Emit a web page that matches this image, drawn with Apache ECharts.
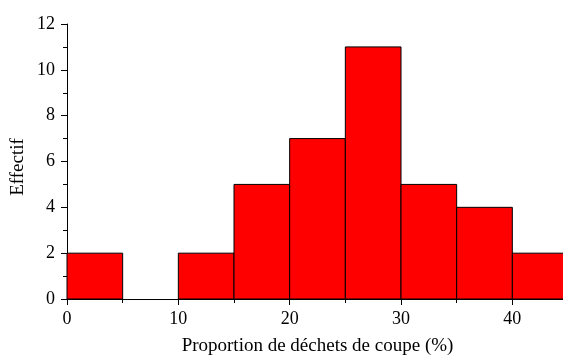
<!DOCTYPE html>
<html><head><meta charset="utf-8">
<script src="https://cdn.jsdelivr.net/npm/echarts@6/dist/echarts.min.js"></script>
<style>html,body{margin:0;padding:0;background:#fff}#c{width:563px;height:358px}</style>
</head><body><div id="c"></div>
<script>
const binStarts = [0, 5, 10, 15, 20, 25, 30, 35, 40];
const binWidth = 5;
const counts = [2, 0, 2, 5, 7, 11, 5, 4, 2];
const xTitle = 'Proportion de déchets de coupe (%)';
const yTitle = 'Effectif';

const data = binStarts.map((s, i) => [s, s + binWidth, counts[i]]);
const font = 'Liberation Serif';
const chart = echarts.init(document.getElementById('c'), null, {renderer: 'canvas'});
chart.setOption({
  animation: false,
  grid: {left: 67, right: -5, top: 24, bottom: 59, containLabel: false, outerBoundsMode: 'none'},
  xAxis: {
    type: 'value', min: 0, max: 45, interval: 10,
    axisLine: {show: true, onZero: false, lineStyle: {color: '#000', width: 1}},
    axisTick: {show: true, length: 6, lineStyle: {color: '#000'}},
    minorTick: {show: true, splitNumber: 2, length: 4, lineStyle: {color: '#000'}},
    splitLine: {show: false},
    axisLabel: {color: '#000', fontFamily: font, fontSize: 18, margin: 11, showMaxLabel: false},
    name: xTitle, nameLocation: 'middle', nameGap: 38,
    nameTextStyle: {color: '#000', fontFamily: font, fontSize: 19}
  },
  yAxis: {
    type: 'value', min: 0, max: 12, interval: 2,
    axisLine: {show: true, lineStyle: {color: '#000', width: 1}},
    axisTick: {show: true, length: 6, lineStyle: {color: '#000'}},
    minorTick: {show: true, splitNumber: 2, length: 4, lineStyle: {color: '#000'}},
    splitLine: {show: false},
    axisLabel: {color: '#000', fontFamily: font, fontSize: 18, margin: 12}
  },
  graphic: [{
    type: 'text', x: 18, y: 167, rotation: Math.PI / 2,
    style: {text: yTitle, fill: '#000', font: '19px "Liberation Serif"', align: 'center', verticalAlign: 'middle'}
  }],
  series: [{
    type: 'custom',
    data: data,
    encode: {x: [0, 1], y: 2},
    renderItem: function (params, api) {
      if (!api.value(2)) return null;
      const p0 = api.coord([api.value(0), 0]);
      const p1 = api.coord([api.value(1), api.value(2)]);
      return {
        type: 'rect',
        shape: {x: p0[0], y: p1[1], width: p1[0] - p0[0], height: p0[1] - p1[1]},
        style: {fill: '#ff0000', stroke: '#000', lineWidth: 1}
      };
    }
  }]
});
</script></body></html>
